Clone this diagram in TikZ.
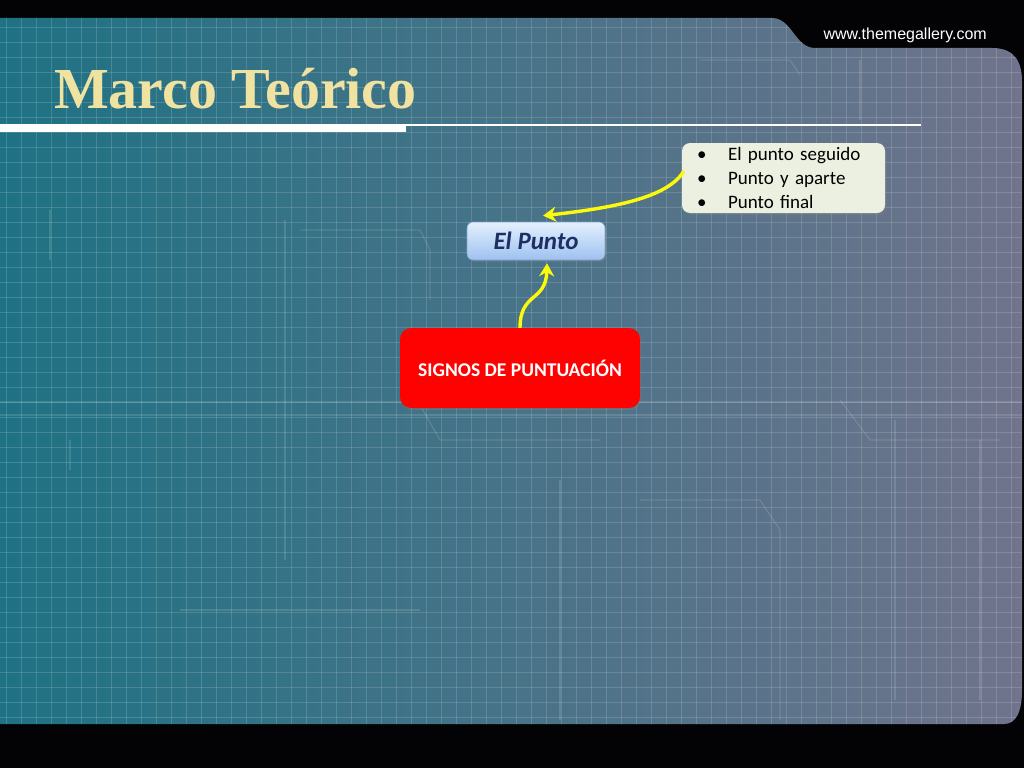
\documentclass[tikz,border=0pt]{standalone}
\usepackage{fontspec}
\setmainfont{Carlito}
\newfontfamily\titlefont{Liberation Serif}
\newfontfamily\urlfont{Liberation Sans}
\usetikzlibrary{arrows.meta,shadows}
\definecolor{bgblack}{RGB}{3,3,5}
\definecolor{tealL}{RGB}{30,114,132}
\definecolor{tealM}{RGB}{88,114,136}
\definecolor{grayR}{RGB}{112,116,140}
\definecolor{titlecol}{RGB}{240,226,160}
\definecolor{boxred}{RGB}{254,2,2}
\definecolor{puntotop}{RGB}{228,240,253}
\definecolor{puntobot}{RGB}{158,193,240}
\definecolor{puntoline}{RGB}{130,160,205}
\definecolor{puntotext}{RGB}{28,48,100}
\definecolor{listfill}{RGB}{236,240,224}
\definecolor{arrowyellow}{RGB}{250,250,10}
\tikzset{
  panelgrid/.style={white,opacity=0.15,line width=0.8pt},
  circuit/.style={white,opacity=0.13,line width=1.2pt},
  softshadow/.style={drop shadow={opacity=0.35,shadow xshift=1.5pt,shadow yshift=-2pt}},
  redbox/.style={rounded corners=11pt,fill=boxred,minimum width=240pt,minimum height=80pt,
    text=white,font=\fontsize{19.5}{22}\selectfont\bfseries,softshadow},
  puntobox/.style={rounded corners=6pt,top color=puntotop,bottom color=puntobot,draw=puntoline,
    line width=0.6pt,minimum width=138pt,minimum height=38pt,text=puntotext,
    font=\fontsize{25}{28}\selectfont\bfseries\itshape,softshadow},
  listbox/.style={rounded corners=8pt,fill=listfill,minimum width=203pt,minimum height=70pt,
    text width=185pt,inner xsep=9pt,inner ysep=0pt,align=left,text=black,
    font=\fontsize{19}{24}\selectfont,softshadow},
  yarrow/.style={arrowyellow,line width=3.4pt,-{Stealth[length=13pt,width=15pt]}}
}
\newcommand{\bitem}[1]{\hspace*{6pt}\makebox[31pt][l]{\textbullet}#1}
\begin{document}
\begin{tikzpicture}[x=1pt,y=-1pt]
\useasboundingbox (0,0) rectangle (1024,768);
\fill[bgblack] (0,0) rectangle (1024,768);
% panel
\def\panelpath{(0,18) -- (772,18) .. controls (792,18) and (795,48) .. (815,48) -- (992,48) .. controls (1015,48) and (1022,62) .. (1022,82) -- (1022,690) .. controls (1022,712) and (1016,724) .. (1004,724) -- (0,724) -- cycle}
\shade[left color=tealL,middle color=tealM,right color=grayR] \panelpath;
\begin{scope}
\clip \panelpath;
\foreach \gx in {6,21,...,1022} \draw[panelgrid] (\gx,0) -- (\gx,768);
\foreach \gy in {12,27,...,740} \draw[panelgrid] (0,\gy) -- (1024,\gy);
% faint circuit traces
\draw[circuit] (0,402) -- (1024,402);
\draw[circuit] (0,415) -- (1024,415);
\draw[circuit] (420,405) -- (440,440) -- (600,440);
\draw[circuit] (285,220) -- (285,560);
\draw[circuit] (300,230) -- (420,230) -- (430,250) -- (430,300);
\draw[circuit] (840,400) -- (870,440) -- (1000,440);
\draw[circuit] (895,420) -- (895,700);
\draw[circuit] (980,440) -- (980,700);
\draw[circuit] (180,610) -- (420,610);
\draw[circuit] (860,60) -- (860,120);
\draw[circuit] (700,60) -- (790,60) -- (800,75);
\draw[circuit] (50,210) -- (50,260);
\draw[circuit] (70,440) -- (70,470);
\draw[circuit] (560,480) -- (560,720);
\draw[circuit] (640,500) -- (760,500) -- (780,530) -- (780,720);
\end{scope}
% title and rules
\node[anchor=base west,inner sep=0pt,text=titlecol,font=\titlefont\fontsize{58}{60}\selectfont\bfseries] (title) at (54,108) {Marco Teórico};
\fill[white] (0,124) rectangle (406,132);
\fill[white] (406,123.5) rectangle (921,126);
\node[anchor=base east,inner sep=0pt,text=white,font=\urlfont\fontsize{16}{18}\selectfont] (url) at (987,40) {www.themegallery.com};
% nodes
\node[redbox] (signos) at (520,368) {SIGNOS DE PUNTUACIÓN};
\node[puntobox] (punto) at (536,241) {El Punto};
\node[listbox] (lista) at (783.5,178) {\bitem{El punto seguido}\\\bitem{Punto y aparte}\\\bitem{Punto final}};
% connectors
\draw[yarrow] (signos.north) .. controls (520,292) and (546,302) .. ([xshift=11pt,yshift=-3pt]punto.south);
\draw[yarrow] ([xshift=2pt,yshift=7pt]lista.west) .. controls (668,198) and (612,208) .. ([xshift=7pt,yshift=6pt]punto.north);
\end{tikzpicture}
\end{document}
